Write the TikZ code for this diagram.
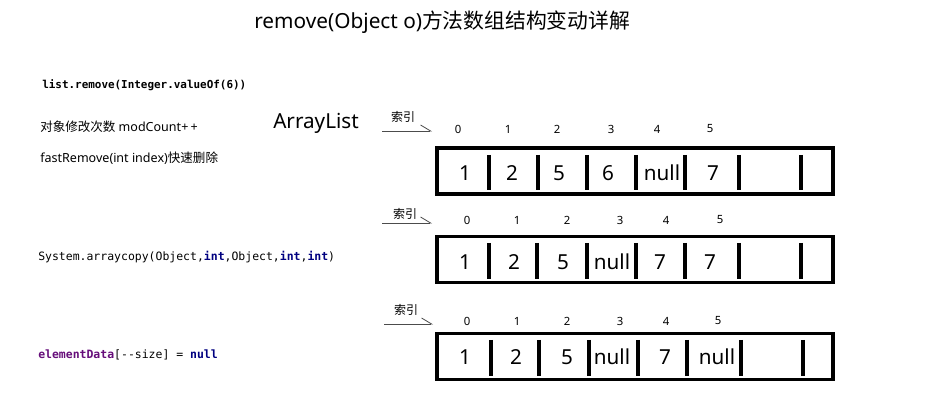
\documentclass[tikz,border=0pt]{standalone}
\usepackage{fontspec}
\setmainfont{Noto Sans}
\setmonofont{DejaVu Sans Mono}
\newfontfamily\cjk{Noto Sans CJK SC}
\usepackage{xcolor}
\usetikzlibrary{arrows.meta, positioning}
\definecolor{kwnavy}{HTML}{000080}
\definecolor{fldpurple}{HTML}{660E7A}
\newcommand{\kw}[1]{\textbf{\color{kwnavy}#1}}
\tikzset{
  arrbox/.style={rectangle, draw, line width=2.3pt, inner sep=0pt,
                 minimum width=297pt, minimum height=34.5pt},
  cellsep/.style={line width=2.3pt},
  cellval/.style={font=\fontsize{15.5}{18}\selectfont, inner sep=0pt},
  idxnum/.style={font=\fontsize{8.5}{10}\selectfont, inner sep=0pt},
  idxlbl/.style={font=\cjk\fontsize{9}{11}\selectfont, inner sep=0pt},
  ptr/.style={draw=black!70, line width=0.6pt,
              -{Straight Barb[left, length=7.5pt, width=9pt]}},
  note/.style={anchor=west, inner sep=0pt, font=\fontsize{9.4}{11}\selectfont},
  code/.style={anchor=west, inner sep=0pt, font=\ttfamily\fontsize{8.6}{10}\selectfont},
}

\begin{document}
\begin{tikzpicture}[x=0.75pt, y=-0.75pt]
  \useasboundingbox (0,0) rectangle (925,413);

  % title and the calls on the left
  \node[anchor=west, inner sep=0pt, font=\fontsize{15.6}{18}\selectfont] (title) at (254,22)
        {remove(Object o){\cjk 方法数组结构变动详解}};
  \node[code, font=\ttfamily\fontsize{8.2}{10}\selectfont] (call) at (42,85)
        {\textbf{list.remove(Integer.valueOf(6))}};
  \node[note] (mod)   at (40,127)  {{\cjk 对象修改次数} modCount+\,+};
  \node[note] (fast)  at (40,158)  {fastRemove(int index){\cjk 快速删除}};
  \node[code] (copy)  at (38,257)  {System.arraycopy(Object,\kw{int},Object,\kw{int},\kw{int})};
  \node[code] (clear) at (38,355)  {\textbf{\color{fldpurple}elementData}[--size] = \kw{null}};
  \node[anchor=west, inner sep=0pt, font=\fontsize{15.5}{18}\selectfont] (alist) at (273,123) {ArrayList};

  % row 1: before the remove
  \node[arrbox] (row1) at (635,171) {};
  \foreach \x in {489,538,587,636,685,739,801} \draw[cellsep] (\x,155) -- (\x,190);
  \foreach \x/\v in {465/1,512/2,559/5,608/6,662/null,713/7} \node[cellval] at (\x,173) {\v};
  \foreach \x/\i in {458/0,508/1,557/2,611/3,657/4,710/5} \node[idxnum] at (\x,129) {\i};
  \node[idxlbl] (lbl1) at (403,117) {索引};
  \coordinate (tip1) at (432,131);
  \draw[ptr] (382,131) -- (tip1);

  % row 2: after System.arraycopy
  \node[arrbox] (row2) at (635,259.5) {};
  \foreach \x in {489,537,587,636,685,739,801} \draw[cellsep] (\x,243) -- (\x,279);
  \foreach \x/\v in {465/1,514/2,563/5,612/null,660/7,710/7} \node[cellval] at (\x,262) {\v};
  \foreach \x/\i in {467/0,517/1,567/2,620/3,666/4,720/5} \node[idxnum] at (\x,220) {\i};
  \node[idxlbl] (lbl2) at (405,214) {索引};
  \coordinate (tip2) at (432,223);
  \draw[ptr] (382,223) -- (tip2);

  % row 3: last slot cleared
  \node[arrbox] (row3) at (635,356.5) {};
  \foreach \x in {491,539,589,638,687,741,803} \draw[cellsep] (\x,340) -- (\x,376);
  \foreach \x/\v in {465/1,516/2,567/5,612/null,665/7,717/null} \node[cellval] at (\x,357) {\v};
  \foreach \x/\i in {467/0,517/1,567/2,620/3,666/4,718/5} \node[idxnum] at (\x,321) {\i};
  \node[idxlbl] (lbl3) at (406,310) {索引};
  \coordinate (tip3) at (433,324);
  \draw[ptr] (384,324) -- (tip3);
\end{tikzpicture}
\end{document}
